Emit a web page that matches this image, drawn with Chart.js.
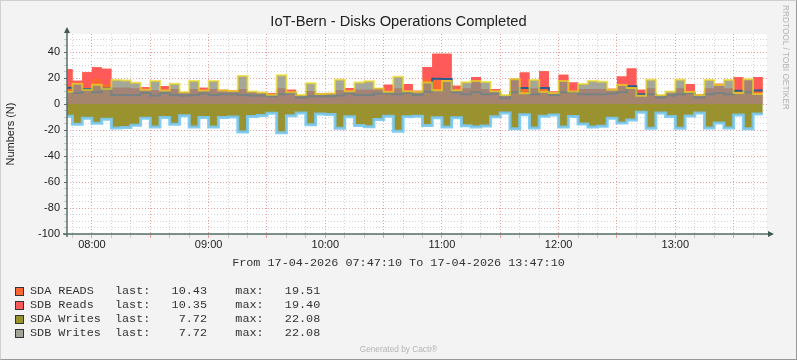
<!DOCTYPE html>
<html><head><meta charset="utf-8">
<script src="https://cdn.jsdelivr.net/npm/chart.js@4.4.1/dist/chart.umd.min.js"></script>
<style>
html,body{margin:0;padding:0;background:#f3f3f3;}
#wrap{position:relative;width:797px;height:360px;overflow:hidden;background:#f3f3f3;}
#frame{position:absolute;left:0;top:0;width:797px;height:360px;box-sizing:border-box;border-style:solid;border-width:1px;border-color:#d0d0d0 #989898 #989898 #d0d0d0;pointer-events:none;}
canvas{position:absolute;left:0;top:0;}
.t{position:absolute;white-space:pre;color:#333;}
#title{left:0;width:797px;top:12px;text-align:center;font:14.7px/18px "Liberation Sans",Arial,sans-serif;color:#222;}
#range{left:0;width:797px;top:255px;text-align:center;font:11.8px/16px "Liberation Mono",monospace;color:#333;}
.lg{left:30px;font:11.8px/14px "Liberation Mono",monospace;color:#333;}
.box{position:absolute;left:15px;width:7px;height:7px;border:1px solid #333;}
#gen{left:0;width:797px;top:343px;text-align:center;font:8.3px/12px "Liberation Sans",Arial,sans-serif;color:#b4b4b4;}
#wm{left:780px;top:5px;writing-mode:vertical-rl;font:8.3px/11px "Liberation Sans",Arial,sans-serif;color:#b4b4b4;}
</style></head>
<body>
<div id="wrap">
<canvas id="c" width="797" height="360"></canvas>
<div class="t" id="title">IoT-Bern - Disks Operations Completed</div>
<div class="t" id="range"></div>
<div id="legend"></div>
<div class="t" id="gen">Generated by Cacti®</div>
<div class="t" id="wm">RRDTOOL / TOBI OETIKER</div>
<div id="frame"></div>
</div>
<script>
// ---- data (5-minute slots starting 07:45) ----
const slotStart = '07:45';
const slotMinutes = 5;
const viewFrom = '07:47:10';
const viewTo = '13:47:10';
const viewDate = '17-04-2026';

const sdaReads = [12.5, 8.5, 11.5, 9.0, 12.0, 7.0, 7.0, 7.0, 8.5, 6.5,
  8.5, 7.0, 6.5, 7.0, 8.0, 7.0, 7.5, 7.5, 7.0, 6.5,
  6.5, 6.0, 7.5, 8.0, 5.0, 6.0, 6.0, 6.0, 6.5, 8.0,
  7.0, 7.0, 8.0, 8.0, 7.5, 8.5, 7.0, 9.4, 19.51, 19.2,
  9.0, 7.5, 9.0, 7.5, 8.0, 4.5, 9.0, 12.3, 7.5, 12.3,
  7.0, 9.0, 9.0, 7.5, 7.5, 7.5, 8.0, 9.0, 13.6, 7.5,
  7.5, 5.0, 6.5, 7.5, 8.5, 5.0, 7.5, 8.5, 7.5, 10.2,
  9.0, 10.43];
const sdbReads = [14.2, 9.4, 12.9, 19.2, 15.1, 5.5, 5.5, 5.0, 4.3, 4.0,
  5.3, 4.5, 2.5, 4.5, 4.5, 4.5, 3.5, 3.0, 4.5, 2.5,
  2.0, 2.5, 4.5, 3.0, 2.0, 4.0, 2.5, 2.5, 4.0, 4.3,
  4.0, 4.0, 4.3, 6.8, 4.5, 6.8, 3.2, 19.0, 19.2, 19.4,
  5.0, 4.5, 11.8, 4.0, 3.5, 1.5, 10.5, 12.0, 4.5, 12.8,
  2.7, 13.5, 7.6, 4.0, 4.0, 4.0, 3.8, 12.2, 13.8, 3.5,
  4.5, 1.5, 2.0, 4.5, 6.9, 2.5, 4.5, 7.0, 4.5, 10.3,
  9.0, 10.35];
const sdaWrites = [9.5, 15.6, 10.9, 14.8, 11.7, 18.5, 18.0, 16.4, 10.9, 17.7,
  10.3, 15.6, 9.0, 17.7, 10.3, 17.7, 10.3, 10.0, 21.5, 9.7,
  8.9, 7.2, 22.08, 9.0, 7.0, 16.0, 7.7, 8.0, 18.7, 9.9,
  16.5, 17.5, 12.0, 9.5, 21.0, 9.9, 9.5, 16.5, 10.5, 17.7,
  10.5, 16.7, 17.7, 17.0, 9.9, 7.0, 19.0, 8.2, 18.5, 9.4,
  8.5, 17.7, 9.7, 15.4, 17.7, 17.2, 11.0, 14.7, 12.3, 6.4,
  18.7, 7.0, 9.7, 18.7, 9.2, 7.0, 18.5, 14.7, 18.5, 8.5,
  19.0, 7.72];
const sdbWrites = [9.5, 15.6, 10.9, 14.8, 11.7, 18.5, 18.0, 16.4, 10.9, 17.7,
  10.3, 15.6, 9.0, 17.7, 10.3, 17.7, 10.3, 10.0, 21.5, 9.7,
  8.9, 7.2, 22.08, 9.0, 7.0, 16.0, 7.7, 8.0, 18.7, 9.9,
  16.5, 17.5, 12.0, 9.5, 21.0, 9.9, 9.5, 16.5, 10.5, 17.7,
  10.5, 16.7, 17.7, 17.0, 9.9, 7.0, 19.0, 8.2, 18.5, 9.4,
  8.5, 17.7, 9.7, 15.4, 17.7, 17.2, 11.0, 14.7, 12.3, 6.4,
  18.7, 7.0, 9.7, 18.7, 9.2, 7.0, 18.5, 14.7, 18.5, 8.5,
  19.0, 7.72];

const yMin = -100, yMax = 53.85, yStep = 5, yLabelStep = 20;
const xMinorStep = 10, xMajorStep = 30, xLabelStep = 60;

const series = [
  {name: 'SDA READS', values: sdaReads, color: '#FF6633'},
  {name: 'SDB Reads', values: sdbReads, color: '#FF5A5A'},
  {name: 'SDA Writes', values: sdaWrites, color: '#99932F'},
  {name: 'SDB Writes', values: sdbWrites, color: '#A2A397'}
];

// ---- helpers ----
function toMin(s){ const p = s.split(':').map(Number); return p[0]*60 + p[1] + (p[2]||0)/60; }
const t0 = toMin(slotStart);
function pts(vals, sign){
  const p = vals.map((v,i)=>({x: t0 + i*slotMinutes, y: sign*v}));
  p.push({x: t0 + vals.length*slotMinutes, y: sign*vals[vals.length-1]});
  return p;
}
function pad2(n){ return (n<10?'0':'')+n; }

// ---- text ----
document.getElementById('range').textContent =
  'From ' + viewDate + ' ' + viewFrom + ' To ' + viewDate + ' ' + viewTo;
const lg = document.getElementById('legend');
series.forEach((s,i)=>{
  const top = 284 + i*14;
  const last = s.values[s.values.length-1];
  const max = Math.max(...s.values);
  const row = document.createElement('div');
  row.className = 't lg';
  row.style.top = top + 'px';
  row.textContent = s.name.padEnd(12) + 'last:' + last.toFixed(2).padStart(8) + '    max:' + max.toFixed(2).padStart(8);
  lg.appendChild(row);
  const b = document.createElement('div');
  b.className = 'box';
  b.style.top = (top + 3) + 'px';
  b.style.background = s.color;
  lg.appendChild(b);
});

// ---- chart ----
const plotFrame = {
  id: 'plotFrame',
  beforeDraw(chart){
    const {ctx, chartArea: a} = chart;
    ctx.save();
    ctx.fillStyle = '#ffffff';
    ctx.fillRect(a.left, a.top, a.right - a.left, a.bottom - a.top);
    ctx.restore();
  },
  afterDraw(chart){
    const {ctx, chartArea: a} = chart;
    ctx.save();
    ctx.strokeStyle = '#56706a';
    ctx.fillStyle = '#3f5a52';
    ctx.lineWidth = 1.5;
    ctx.beginPath();
    ctx.moveTo(a.left, a.bottom + 3);
    ctx.lineTo(a.left, a.top - 3);
    ctx.moveTo(a.left - 4, a.bottom);
    ctx.lineTo(a.right + 3, a.bottom);
    ctx.stroke();
    ctx.beginPath();
    ctx.moveTo(a.left, a.top - 7);
    ctx.lineTo(a.left - 3, a.top - 1);
    ctx.lineTo(a.left + 3, a.top - 1);
    ctx.closePath();
    ctx.fill();
    ctx.beginPath();
    ctx.moveTo(a.right + 7, a.bottom);
    ctx.lineTo(a.right + 1, a.bottom - 3);
    ctx.lineTo(a.right + 1, a.bottom + 3);
    ctx.closePath();
    ctx.fill();
    ctx.restore();
  }
};

const common = {pointRadius: 0, pointHoverRadius: 0, tension: 0, stepped: 'before', clip: 0};

new Chart(document.getElementById('c'), {
  type: 'line',
  data: {
    datasets: [
      Object.assign({}, common, {label: 'SDA READS', data: pts(sdaReads, 1), stack: 'reads',
        fill: 'origin', backgroundColor: '#FF6633', borderWidth: 0, borderColor: 'rgba(0,0,0,0)', order: 10}),
      Object.assign({}, common, {label: 'SDB Reads', data: pts(sdbReads, 1), stack: 'reads',
        fill: '-1', backgroundColor: '#FF5A5A', borderWidth: 0, borderColor: 'rgba(0,0,0,0)', order: 9}),
      Object.assign({}, common, {label: 'SDA READS line', data: pts(sdaReads, 1), stack: 'readsLine',
        fill: false, borderColor: '#2d5b8c', borderWidth: 2, order: 8}),
      Object.assign({}, common, {label: 'SDB Writes', data: pts(sdbWrites, 1), stack: 'wb',
        fill: 'origin', backgroundColor: 'rgba(140,142,126,0.78)', borderColor: 'rgba(236,218,30,0.7)', borderWidth: 2, order: 7}),
      Object.assign({}, common, {label: 'SDA Writes', data: pts(sdaWrites, -1), stack: 'wa',
        fill: 'origin', backgroundColor: '#99922F', borderColor: 'rgba(120,200,242,0.9)', borderWidth: 3, order: 6})
    ]
  },
  options: {
    responsive: false,
    devicePixelRatio: 1,
    animation: false,
    events: [],
    layout: {padding: {left: 0, top: 34, right: 30, bottom: 0}},
    plugins: {legend: {display: false}, title: {display: false}, tooltip: {enabled: false}},
    scales: {
      x: {
        type: 'linear',
        min: toMin(viewFrom), max: toMin(viewTo),
        afterFit(s){ s.height = 126; },
        afterBuildTicks(s){
          const out = [];
          for (let v = Math.ceil(s.min / xMinorStep) * xMinorStep; v <= s.max; v += xMinorStep) out.push({value: v});
          s.ticks = out;
        },
        border: {display: false, dash: [1, 2]},
        grid: {
          color: c => (Math.round(c.tick.value) % xMajorStep === 0 ? '#e9a0a0' : '#d4d4d4'),
          tickColor: c => (Math.round(c.tick.value) % xMajorStep === 0 ? '#e9a0a0' : '#c8c8c8'),
          tickLength: 4, tickBorderDash: [], lineWidth: 1
        },
        ticks: {
          autoSkip: false, maxRotation: 0, padding: 0,
          color: '#222', font: {family: 'Liberation Sans', size: 11},
          callback: v => (Math.round(v) % xLabelStep === 0 ? pad2(Math.floor(v/60)) + ':' + pad2(Math.round(v)%60) : '')
        }
      },
      y: {
        type: 'linear', stacked: true,
        min: yMin, max: yMax,
        afterFit(s){ s.width = 67; },
        border: {display: false, dash: [1, 2]},
        grid: {
          color: c => (Math.round(c.tick.value) % yLabelStep === 0 ? '#e9a0a0' : '#d4d4d4'),
          tickColor: c => (Math.round(c.tick.value) % yLabelStep === 0 ? '#666' : '#c8c8c8'),
          tickLength: 3, tickBorderDash: [], lineWidth: 1
        },
        title: {display: true, text: 'Numbers (N)', color: '#222', font: {family: 'Liberation Sans', size: 11}, padding: {top: 4, bottom: 0}},
        ticks: {
          stepSize: yStep, autoSkip: false, includeBounds: false, padding: 4,
          color: '#222', font: {family: 'Liberation Sans', size: 11},
          callback: v => (Math.round(v) % yLabelStep === 0 ? String(Math.round(v)) : '')
        }
      }
    }
  },
  plugins: [plotFrame]
});
</script>
</body></html>
